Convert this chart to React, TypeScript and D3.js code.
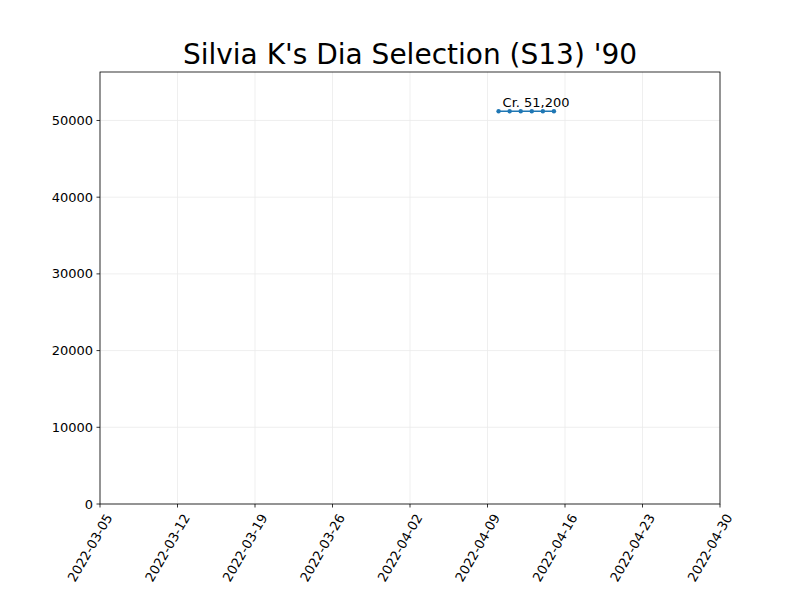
import React from "react";
import * as d3 from "d3";

const title = "Silvia K's Dia Selection (S13) '90";
const dates = ["2022-04-10", "2022-04-11", "2022-04-12", "2022-04-13", "2022-04-14", "2022-04-15"];
const values = [51200, 51200, 51200, 51200, 51200, 51200];
const xTicks = ["2022-03-05", "2022-03-12", "2022-03-19", "2022-03-26", "2022-04-02", "2022-04-09", "2022-04-16", "2022-04-23", "2022-04-30"];
const yTicks = [0, 10000, 20000, 30000, 40000, 50000];
const label = "Cr. 51,200";

export default function App() {
  const p = d3.utcParse("%Y-%m-%d");
  const L = 100, R = 720, T = 72, B = 504;
  const x = d3.scaleUtc().domain([p("2022-03-05")!, p("2022-04-30")!]).range([L, R]);
  const y = d3.scaleLinear().domain([0, 56320]).range([B, T]);
  const pts = dates.map((d, i) => [x(p(d)!), y(values[i])] as [number, number]);
  const line = d3.line()(pts) || "";
  const font = "DejaVu Sans";
  return (
    <svg width={800} height={600} style={{ position: "absolute", left: 0, top: 0 }} fontFamily={font}>
      <rect width={800} height={600} fill="white" />
      {xTicks.map(t => (
        <line key={t} x1={x(p(t)!)} x2={x(p(t)!)} y1={T} y2={B} stroke="#ebebeb" strokeWidth={0.8} />
      ))}
      {yTicks.map(t => (
        <line key={t} x1={L} x2={R} y1={y(t)} y2={y(t)} stroke="#ebebeb" strokeWidth={0.8} />
      ))}
      <path d={line} fill="none" stroke="#1f77b4" strokeWidth={1.5} />
      {pts.map((q, i) => <circle key={i} cx={q[0]} cy={q[1]} r={2.2} fill="#1f77b4" />)}
      <text x={pts[0][0] + 4} y={pts[0][1] - 4} fontSize={13}>{label}</text>
      <rect x={L} y={T} width={R - L} height={B - T} fill="none" stroke="black" strokeWidth={0.8} />
      {yTicks.map(t => (
        <g key={t}>
          <line x1={L - 3.5} x2={L} y1={y(t)} y2={y(t)} stroke="black" strokeWidth={0.8} />
          <text x={L - 7} y={y(t)} fontSize={13} textAnchor="end" dominantBaseline="central">{t}</text>
        </g>
      ))}
      {xTicks.map(t => {
        const xx = x(p(t)!);
        return (
          <g key={t}>
            <line x1={xx} x2={xx} y1={B} y2={B + 3.5} stroke="black" strokeWidth={0.8} />
            <text transform={`translate(${xx + 9},${B + 11}) rotate(-60)`} fontSize={13} textAnchor="end" dominantBaseline="central">{t}</text>
          </g>
        );
      })}
      <text x={410} y={64} fontSize={28} textAnchor="middle">{title}</text>
    </svg>
  );
}
